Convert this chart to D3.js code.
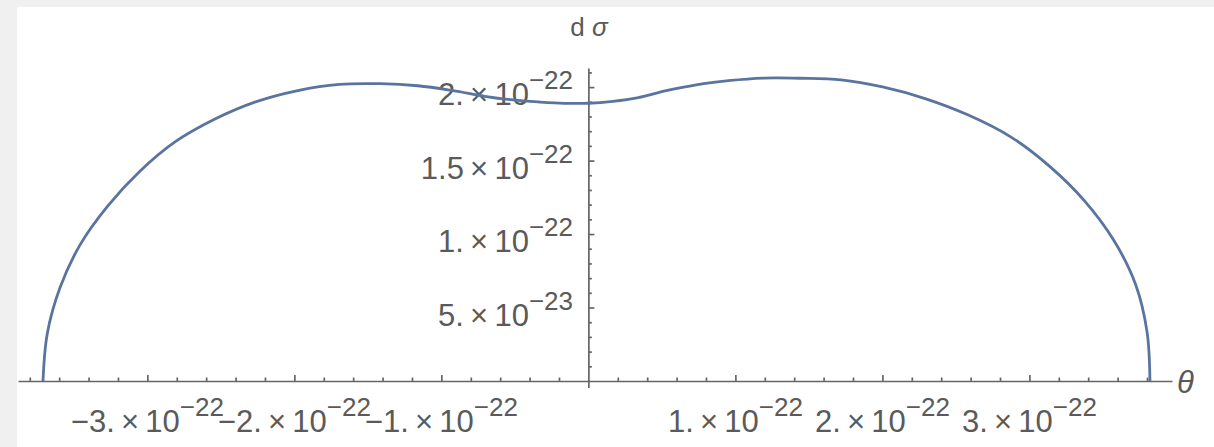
<!DOCTYPE html>
<html>
<head>
<meta charset="utf-8">
<script src="https://cdn.jsdelivr.net/npm/d3@7"></script>
<style>
  html, body { margin: 0; padding: 0; background: #f0f0f0; }
  svg { display: block; }
</style>
</head>
<body>
<svg id="chart" width="1214" height="447"></svg>
<script>
// Polar angle θ (degrees) and differential cross section dσ(θ)
const angleDeg = [0, 5, 10, 15, 20, 25, 30, 35, 40, 45, 50, 55, 60, 65, 70, 75, 80, 85, 90,
                  95, 100, 105, 110, 115, 120, 125, 130, 135, 140, 145, 150, 155, 160, 165, 170, 175, 180];
const crossSection = [3.82e-22, 3.815e-22, 3.78e-22, 3.70e-22, 3.59e-22, 3.46e-22, 3.32e-22, 3.155e-22,
                      2.99e-22, 2.83e-22, 2.675e-22, 2.515e-22, 2.38e-22, 2.255e-22, 2.145e-22, 2.045e-22,
                      1.958e-22, 1.91e-22, 1.89e-22, 1.897e-22, 1.928e-22, 1.98e-22, 2.062e-22, 2.18e-22,
                      2.32e-22, 2.47e-22, 2.635e-22, 2.795e-22, 2.955e-22, 3.105e-22, 3.25e-22, 3.37e-22,
                      3.48e-22, 3.58e-22, 3.65e-22, 3.695e-22, 3.71e-22];

// Axis ticks and their labels
const xTickValues   = [-3e-22, -2e-22, -1e-22, 1e-22, 2e-22, 3e-22];
const xTickMantissa = ["\u22123.", "\u22122.", "\u22121.", "1.", "2.", "3."];
const xTickExponent = ["\u221222", "\u221222", "\u221222", "\u221222", "\u221222", "\u221222"];
const yTickValues   = [5e-23, 1e-22, 1.5e-22, 2e-22];
const yTickMantissa = ["5.", "1.", "1.5", "2."];
const yTickExponent = ["\u221223", "\u221222", "\u221222", "\u221222"];
const xMinorStep = 0.2e-22;
const yMinorStep = 0.1e-22;

const svg = d3.select("#chart");
const W = 1214, H = 447;

// frame: grey margin, white plotting canvas
svg.append("rect").attr("width", W).attr("height", H).attr("fill", "#f0f0f0");
svg.append("rect").attr("x", 17).attr("y", 7).attr("width", W - 17).attr("height", H - 7).attr("fill", "#ffffff");

const x = d3.scaleLinear().domain([-3.88e-22, 3.97e-22]).range([18, 1172]);
const y = d3.scaleLinear().domain([-0.045e-22, 2.13e-22]).range([387.6, 68]);

const axisColor = "#666666";
const textColor = "#5a5a5a";
const font = "'Liberation Sans', Arial, sans-serif";

// minor tick values
const xMinor = d3.range(-19, 20).map(i => i * xMinorStep)
  .filter(v => Math.abs(v) > 1e-30 && !xTickValues.some(t => Math.abs(t - v) < 1e-30) && v > x.domain()[0] && v < x.domain()[1]);
const yMinor = d3.range(1, 22).map(i => i * yMinorStep)
  .filter(v => !yTickValues.some(t => Math.abs(t - v) < 1e-30));

const x0 = y(0), y0 = x(0);

// horizontal axis with upward ticks
const gx = svg.append("g").attr("transform", `translate(0,${x0})`);
gx.call(d3.axisBottom(x).tickValues(xTickValues).tickSizeInner(-6).tickSizeOuter(0).tickFormat(""));
const gxm = svg.append("g").attr("transform", `translate(0,${x0})`);
gxm.call(d3.axisBottom(x).tickValues(xMinor).tickSizeInner(-3.5).tickSizeOuter(0).tickFormat(""));
gxm.select(".domain").remove();

// vertical axis with ticks pointing right
const gy = svg.append("g").attr("transform", `translate(${y0},0)`);
gy.call(d3.axisLeft(y).tickValues(yTickValues).tickSizeInner(-6).tickSizeOuter(0).tickFormat(""));
const gym = svg.append("g").attr("transform", `translate(${y0},0)`);
gym.call(d3.axisLeft(y).tickValues(yMinor).tickSizeInner(-3.5).tickSizeOuter(0).tickFormat(""));
gym.select(".domain").remove();

svg.selectAll(".domain, .tick line").attr("stroke", axisColor).attr("stroke-width", 1.7);

// scientific tick labels: mantissa ×10 with superscript exponent
function sciLabel(sel, mant, expo) {
  sel.append("tspan").attr("font-size", 31).text(mant + "\u2009\u00d7\u200910");
  sel.append("tspan").attr("font-size", 26).attr("dy", -16).text(expo);
}

xTickValues.forEach((v, i) => {
  const t = svg.append("text")
    .attr("x", x(v)).attr("y", 432)
    .attr("text-anchor", "middle")
    .attr("fill", textColor).attr("font-family", font);
  sciLabel(t, xTickMantissa[i], xTickExponent[i]);
});

yTickValues.forEach((v, i) => {
  const t = svg.append("text")
    .attr("x", 573).attr("y", y(v) + 18)
    .attr("text-anchor", "end")
    .attr("fill", textColor).attr("font-family", font);
  sciLabel(t, yTickMantissa[i], yTickExponent[i]);
});

// axis names
const dLab = svg.append("text").attr("x", 589).attr("y", 36).attr("text-anchor", "middle")
  .attr("fill", textColor).attr("font-family", font).attr("font-size", 26);
dLab.append("tspan").text("d ");
dLab.append("tspan").attr("font-style", "italic").text("\u03c3");

svg.append("text").attr("x", 1177).attr("y", 393)
  .attr("fill", textColor).attr("font-family", font).attr("font-size", 31).attr("font-style", "italic")
  .text("\u03b8");

// polar curve r(θ) traced in Cartesian coordinates
const pts = angleDeg.map((a, i) => {
  const th = a * Math.PI / 180;
  return [crossSection[i] * Math.cos(th), crossSection[i] * Math.sin(th)];
});
const line = d3.line().x(d => x(d[0])).y(d => y(d[1])).curve(d3.curveCatmullRom.alpha(0.5));
svg.append("path").attr("d", line(pts))
  .attr("fill", "none").attr("stroke", "#5a74a0").attr("stroke-width", 2.8)
  .attr("stroke-linejoin", "round");
</script>
</body>
</html>
